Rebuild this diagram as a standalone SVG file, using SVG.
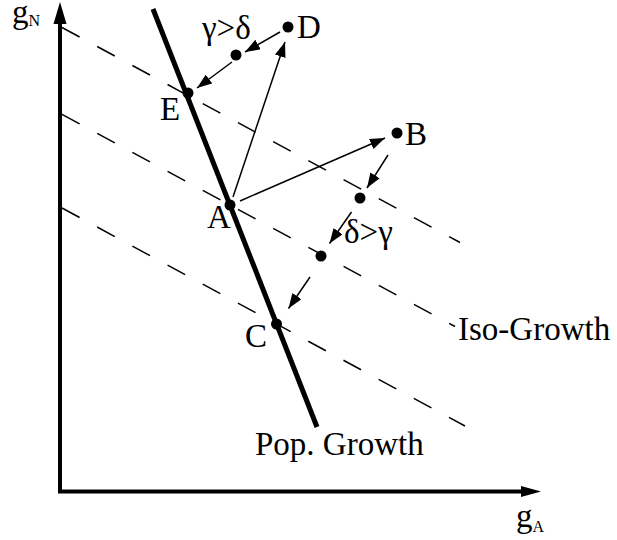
<svg xmlns="http://www.w3.org/2000/svg" width="617" height="540" viewBox="0 0 617 540">
<style>
text{font-family:"Liberation Serif","Times New Roman",serif;fill:#000}
.lbl{font-size:33px}
.sub{font-size:16px}
.iso{stroke:#000;stroke-width:1.5;stroke-dasharray:20 20;fill:none}
.arr{stroke:#000;stroke-width:1.5;fill:none;marker-end:url(#ah)}
.dot{fill:#000}
</style>
<defs>
<marker id="ah" markerUnits="userSpaceOnUse" markerWidth="16" markerHeight="11" refX="15" refY="5.5" orient="auto">
<path d="M0,0 L15,5.5 L0,11 z" fill="#000"/>
</marker>
</defs>
<rect width="617" height="540" fill="#fff"/>
<g id="axes">
<polyline points="60,22 60,491.5 522,491.5" fill="none" stroke="#000" stroke-width="4"/>
<polygon points="60,2 66.5,24 53.5,24" fill="#000"/>
<polygon points="541,491.5 521,486 521,497" fill="#000"/>
<text x="12" y="23" class="lbl">g<tspan class="sub" dy="3">N</tspan></text>
<text x="516" y="527" class="lbl">g<tspan class="sub" dy="5">A</tspan></text>
</g>
<g id="iso-growth">
<line class="iso" x1="62" y1="27.5" x2="460" y2="242.5"/>
<line class="iso" x1="62" y1="114.3" x2="455" y2="326.5"/>
<line class="iso" x1="62" y1="208" x2="465" y2="426"/>
<text x="458" y="340" class="lbl">Iso-Growth</text>
</g>
<g id="pop-growth">
<line x1="153" y1="9" x2="317" y2="427" stroke="#000" stroke-width="5"/>
<text x="255" y="455" class="lbl">Pop. Growth</text>
</g>
<g id="connectors">
<line class="arr" x1="233" y1="197" x2="285" y2="42"/>
<line class="arr" x1="240" y1="201" x2="385" y2="138"/>
<line class="arr" x1="280" y1="32" x2="245" y2="52"/>
<line class="arr" x1="232" y1="62" x2="197" y2="88"/>
<line class="arr" x1="388" y1="155" x2="367" y2="188"/>
<line class="arr" x1="351.5" y1="212" x2="329.5" y2="243.5"/>
<line class="arr" x1="310" y1="277" x2="288.5" y2="308.5"/>
</g>
<g id="node-D"><circle class="dot" cx="288" cy="27" r="5.5"/><text x="297" y="38" class="lbl">D</text></g>
<g id="node-DE"><circle class="dot" cx="236" cy="55" r="5.5"/><text x="202" y="39" class="lbl">γ&gt;δ</text></g>
<g id="node-E"><circle class="dot" cx="188" cy="93" r="5.5"/><text x="160" y="120" class="lbl">E</text></g>
<g id="node-A"><circle class="dot" cx="230" cy="205" r="5.5"/><text x="207" y="228" class="lbl">A</text></g>
<g id="node-B"><circle class="dot" cx="397" cy="133" r="5.5"/><text x="405" y="145" class="lbl">B</text></g>
<g id="node-BC1"><circle class="dot" cx="360" cy="198" r="5.5"/></g>
<g id="node-BC2"><circle class="dot" cx="321" cy="256" r="5.5"/><text x="344" y="243" class="lbl">δ&gt;γ</text></g>
<g id="node-C"><circle class="dot" cx="276.5" cy="324" r="5.5"/><text x="245" y="347" class="lbl">C</text></g>
</svg>
